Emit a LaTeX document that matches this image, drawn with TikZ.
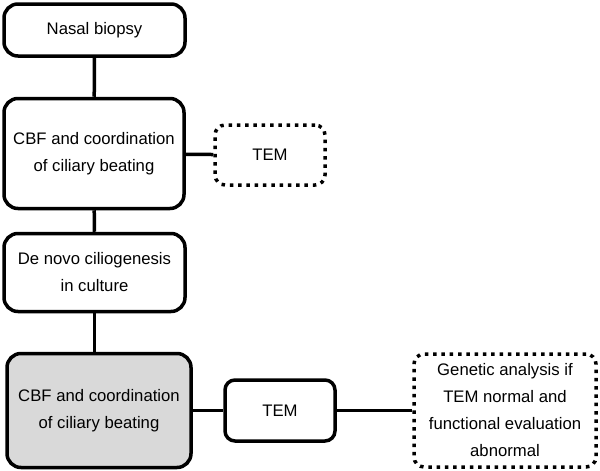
\documentclass[tikz,border=0pt]{standalone}
\usepackage{fontspec}
\setmainfont{Liberation Sans}
\begin{document}
\begin{tikzpicture}[x=1pt, y=-1pt, line width=3.5pt,
  every node/.style={align=center, inner sep=0pt, font=\fontsize{16.7}{27}\selectfont},
  box/.style={draw, rounded corners=14pt},
  dotbox/.style={draw, rounded corners=10pt, dash pattern=on 3.5pt off 4.8pt}]
  \useasboundingbox (0,0) rectangle (600,471);

  \node [box, minimum width=181pt, minimum height=52pt] (biopsy) at (94.5,30) {Nasal biopsy};
  \node [box, minimum width=180pt, minimum height=110pt] (cbf) at (94,153.5) {CBF and coordination\\of ciliary beating};
  \node [dotbox, minimum width=110pt, minimum height=60pt] (tem) at (270,155) {TEM};
  \node [box, minimum width=181pt, minimum height=78pt] (culture) at (94.5,272.5) {De novo ciliogenesis\\in culture};
  \node [box, fill=black!15, minimum width=184pt, minimum height=114pt] (cbfculture) at (99,410.5) {CBF and coordination\\of ciliary beating};
  \node [box, rounded corners=10pt, minimum width=110pt, minimum height=61pt] (temculture) at (280,410.5) {TEM};
  \node [dotbox, minimum width=182pt, minimum height=113pt] (genetic) at (505,410.5) {Genetic analysis if\\TEM normal and\\functional evaluation\\abnormal};

  \draw (biopsy) -- (cbf);
  \draw (cbf) -- (tem);
  \draw (cbf) -- (culture);
  \draw (culture.south) -- (culture.south |- cbfculture.north);
  \draw (cbfculture) -- (temculture);
  \draw (temculture) -- (genetic);
\end{tikzpicture}
\end{document}
